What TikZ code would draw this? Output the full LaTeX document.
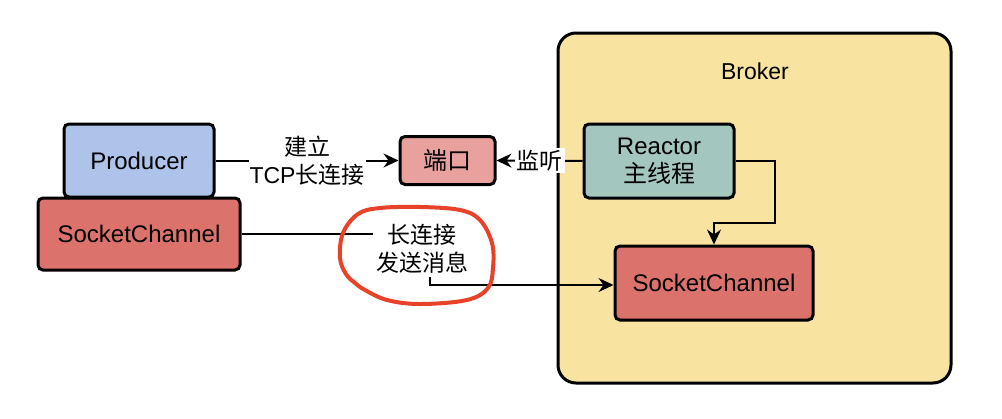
\documentclass[tikz,border=0pt]{standalone}
\usepackage{fontspec}
\setmainfont{Liberation Sans}
\newfontfamily\cjk{Noto Sans CJK SC}
\usetikzlibrary{arrows.meta}
\definecolor{brokerfill}{HTML}{F8E3A1}
\definecolor{prodfill}{HTML}{AEC3EA}
\definecolor{scfill}{HTML}{DC726C}
\definecolor{portfill}{HTML}{E8A19C}
\definecolor{reactfill}{HTML}{A3C7BE}
\definecolor{redmark}{HTML}{E8432A}
\tikzset{
  box/.style={draw=black, line width=3pt, rounded corners=5pt, align=center,
    font=\fontsize{24}{28}\selectfont, inner sep=0pt},
  edge/.style={line width=2pt, -{Stealth[length=15pt,width=14pt,inset=5pt]}},
  lbl/.style={fill=white, align=center, font=\fontsize{23}{28}\selectfont, inner sep=1pt}
}
\begin{document}
\begin{tikzpicture}[x=1pt,y=-1pt]
\useasboundingbox (0,0) rectangle (1002,418);
\node[box, fill=brokerfill, rounded corners=18pt, minimum width=393pt, minimum height=350pt] (broker) at (754.5,208) {};
\node[font=\fontsize{23}{28}\selectfont] (brokerlbl) at (755,71) {Broker};
\node[box, fill=prodfill, minimum width=150pt, minimum height=73pt] (prod) at (139,160.5) {Producer};
\node[box, fill=scfill, minimum width=202pt, minimum height=72pt] (scl) at (139,234) {SocketChannel};
\node[box, fill=portfill, minimum width=95pt, minimum height=48pt] (port) at (447.5,160.5) {\cjk 端口};
\node[box, fill=reactfill, minimum width=150pt, minimum height=74pt] (reactor) at (659,161) {Reactor\\{\cjk 主线程}};
\node[box, fill=scfill, minimum width=198pt, minimum height=74pt] (scr) at (714,283) {SocketChannel};
\coordinate (w1) at (775,223);
\coordinate (w2) at (430,285);
\draw[edge] (prod.east) -- node[lbl] (l1) {{\cjk 建立}\\TCP{\cjk 长连接}} (port.west);
\draw[edge] (reactor.west) -- node[lbl, inner sep=2pt] (l2) {\cjk 监听} (port.east);
\draw[edge] (reactor.east) -| (w1) -| (scr.north);
\draw[edge] (scl.east) -| (w2) -- (scr.west |- w2);
\node[lbl, inner sep=3pt] (l3) at (422,249) {{\cjk 长连接}\\{\cjk 发送消息}};
\draw[redmark, line width=4pt, line cap=round, line join=round]
  plot[smooth cycle, tension=0.6] coordinates {
    (380,208) (420,207) (460,210) (480,220) (492,243) (493,268) (488,288)
    (467,300) (420,304) (387,300) (365,290) (355,283) (346,274) (340,258)
    (343,233) (358,214)};
\end{tikzpicture}
\end{document}
